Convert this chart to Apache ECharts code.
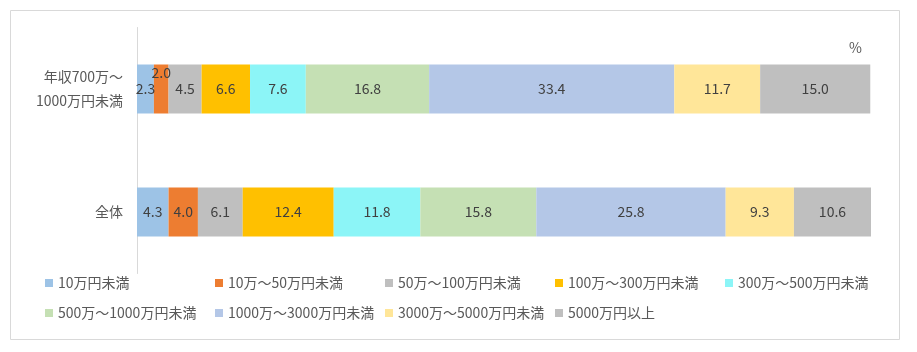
<!DOCTYPE html>
<html><head><meta charset="utf-8">
<script src="https://cdn.jsdelivr.net/npm/echarts@6/dist/echarts.min.js"></script>
<style>html,body{margin:0;padding:0;background:#fff}#c{width:917px;height:352px}</style>
</head><body><div id="c"></div>
<script>
const categories = ['全体', '年収700万～\n1000万円未満'];
const seriesNames = ['10万円未満','10万～50万円未満','50万～100万円未満','100万～300万円未満','300万～500万円未満','500万～1000万円未満','1000万～3000万円未満','3000万～5000万円未満','5000万円以上'];
const colors = ['#9DC3E6','#ED7D31','#BFBFBF','#FFC000','#8CF5F7','#C5E0B4','#B4C7E7','#FFE699','#BFBFBF'];
// values: [全体, 年収700万～1000万円未満]
const v10 = [4.3, 2.3];
const v10_50 = [4.0, 2.0];
const v50_100 = [6.1, 4.5];
const v100_300 = [12.4, 6.6];
const v300_500 = [11.8, 7.6];
const v500_1000 = [15.8, 16.8];
const v1000_3000 = [25.8, 33.4];
const v3000_5000 = [9.3, 11.7];
const v5000 = [10.6, 15.0];
const allValues = [v10, v10_50, v50_100, v100_300, v300_500, v500_1000, v1000_3000, v3000_5000, v5000];

const font = '"Noto Sans CJK JP", "Noto Sans", sans-serif';
const series = seriesNames.map((name, i) => ({
  name, type: 'bar', stack: 'total', barWidth: 49,
  itemStyle: { color: colors[i] },
  label: { show: true, position: 'inside', color: '#404040', fontSize: 14, fontFamily: font,
           formatter: p => p.value.toFixed(1) },
  data: allValues[i].map((v, j) => (i === 1 && j === 1) ? { value: v, label: { offset: [0, -16] } } : v),
  emphasis: { disabled: true }
}));

const legendPos = [[45,276],[215,276],[385,276],[555,276],[725,276],[45,306],[215,306],[385,306],[555,306]];
const legends = seriesNames.map((name, i) => ({
  data: [name], left: legendPos[i][0], top: legendPos[i][1], icon: 'rect', itemWidth: 8, itemHeight: 8,
  itemGap: 0, padding: 0, textStyle: { color: '#595959', fontSize: 14, fontFamily: font },
  selectedMode: false
}));

const chart = echarts.init(document.getElementById('c'));
chart.setOption({
  animation: false,
  grid: { left: 137, top: 27.5, width: 734, height: 246, containLabel: false },
  xAxis: { type: 'value', min: 0, max: 100, show: false },
  yAxis: { type: 'category', data: categories,
    axisLine: { show: true, lineStyle: { color: '#D9D9D9' } }, axisTick: { show: false },
    axisLabel: { color: '#595959', fontSize: 14, fontFamily: font, margin: 14, lineHeight: 24 } },
  legend: legends,
  series,
  graphic: [
    { type: 'rect', shape: { x: 10.5, y: 10.5, width: 889, height: 329 }, style: { fill: 'none', stroke: '#D9D9D9', lineWidth: 1 }, silent: true },
    { type: 'text', left: 849, top: 41, style: { text: '%', fill: '#595959', fontSize: 14, fontFamily: font }, silent: true }
  ]
});
</script></body></html>
